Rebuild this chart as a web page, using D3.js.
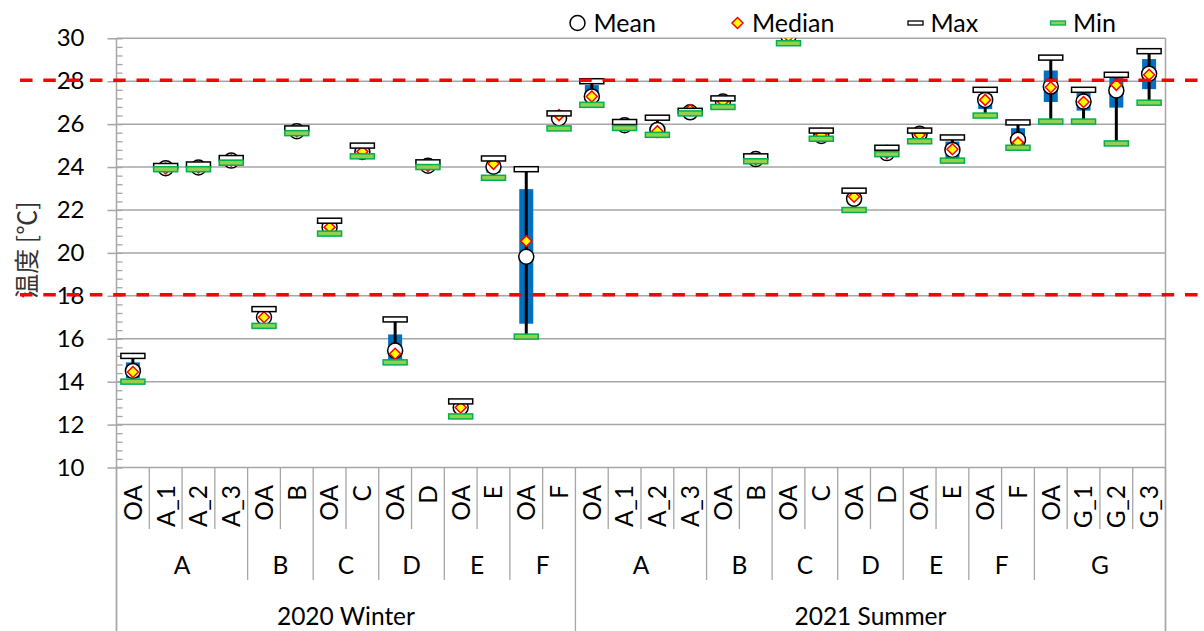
<!DOCTYPE html>
<html>
<head>
<meta charset="utf-8">
<script src="https://cdn.jsdelivr.net/npm/d3@7"></script>
<style>
  body { margin: 0; background: #fff; }
  svg { display: block; }
</style>
</head>
<body>
<svg id="chart" width="1204" height="631"></svg>
<script>
// Measurement points, grouped by room and season
const categories = ["OA","A_1","A_2","A_3","OA","B","OA","C","OA","D","OA","E","OA","F",
                    "OA","A_1","A_2","A_3","OA","B","OA","C","OA","D","OA","E","OA","F","OA","G_1","G_2","G_3"];
const groups = ["A","A","A","A","B","B","C","C","D","D","E","E","F","F",
                "A","A","A","A","B","B","C","C","D","D","E","E","F","F","G","G","G","G"];
const seasons = ["2020 Winter","2020 Winter","2020 Winter","2020 Winter","2020 Winter","2020 Winter","2020 Winter",
                 "2020 Winter","2020 Winter","2020 Winter","2020 Winter","2020 Winter","2020 Winter","2020 Winter",
                 "2021 Summer","2021 Summer","2021 Summer","2021 Summer","2021 Summer","2021 Summer","2021 Summer",
                 "2021 Summer","2021 Summer","2021 Summer","2021 Summer","2021 Summer","2021 Summer","2021 Summer",
                 "2021 Summer","2021 Summer","2021 Summer","2021 Summer"];

// Temperature statistics [°C]
const maxVals    = [15.2, 24.05, 24.12, 24.42, 17.38, 25.8, 21.5, 25.0, 16.9, 24.22, 13.08, 24.4, 23.9, 26.5,
                    28.0, 26.1, 26.3, 26.62, 27.2, 24.5, 30.4, 25.7, 22.9, 24.9, 25.7, 25.38, 27.6, 26.08, 29.1, 27.6, 28.3, 29.4];
const minVals    = [14.0, 23.9, 23.9, 24.2, 16.6, 25.58, 20.9, 24.5, 14.9, 24.0, 12.38, 23.5, 16.1, 25.8,
                    26.9, 25.82, 25.5, 26.5, 26.8, 24.27, 29.77, 25.32, 22.0, 24.6, 25.2, 24.3, 26.4, 24.9, 26.12, 26.12, 25.1, 27.0];
const meanVals   = [14.5, 23.95, 23.98, 24.3, 17.0, 25.67, 21.2, 24.7, 15.45, 24.06, 12.8, 24.02, 19.82, 26.28,
                    27.29, 25.95, 25.73, 26.55, 27.05, 24.37, 30.1, 25.45, 22.52, 24.65, 25.55, 24.8, 27.13, 25.27, 27.75, 27.05, 27.57, 28.35];
const medianVals = [14.45, 23.93, 23.98, 24.3, 17.0, 25.67, 21.2, 24.72, 15.3, 24.05, 12.8, 24.15, 20.55, 26.42,
                    27.29, 25.95, 25.67, 26.66, 27.05, 24.37, 30.1, 25.5, 22.62, 24.66, 25.5, 24.83, 27.13, 25.14, 27.72, 27.03, 27.83, 28.3];
const q1Vals     = [14.15, 23.92, 23.93, 24.25, 16.85, 25.62, 21.05, 24.6, 15.0, 24.02, 12.6, 23.73, 16.7, 26.1,
                    27.1, 25.88, 25.6, 26.52, 26.9, 24.32, 29.95, 25.38, 22.3, 24.62, 25.35, 24.41, 26.7, 24.96, 27.03, 26.63, 26.77, 27.63];
const q3Vals     = [14.9, 24.0, 24.05, 24.35, 17.15, 25.72, 21.35, 24.85, 16.2, 24.12, 12.95, 24.2, 22.97, 26.4,
                    27.82, 26.02, 25.92, 26.6, 27.15, 24.45, 30.25, 25.6, 22.7, 24.75, 25.62, 25.19, 27.4, 25.81, 28.5, 27.45, 28.19, 29.03];

const yTicks = [10, 12, 14, 16, 18, 20, 22, 24, 26, 28, 30];
const thresholds = [28, 18];
const legendItems = ["Mean", "Median", "Max", "Min"];

const svg = d3.select("#chart");
const FONT = "Lato, 'Noto Sans', sans-serif";
const GRID = "#a6a6a6";

const plot = { left: 116.5, right: 1165.5, top: 38.3, bottom: 467.5 };
const idx = d3.range(categories.length);

const x = d3.scaleBand().domain(idx).range([plot.left, plot.right]).padding(0);
const y = d3.scaleLinear().domain([10, 30]).range([plot.bottom, plot.top]);
const cx = i => x(i) + x.bandwidth() / 2;

// Horizontal gridlines
svg.append("g").selectAll("line").data(yTicks).join("line")
  .attr("x1", plot.left).attr("x2", plot.right)
  .attr("y1", d => y(d)).attr("y2", d => y(d))
  .attr("stroke", GRID).attr("stroke-width", 1.5);

// Right border of the plot area
svg.append("line")
  .attr("x1", plot.right).attr("x2", plot.right)
  .attr("y1", plot.top).attr("y2", 631)
  .attr("stroke", GRID).attr("stroke-width", 1.5);

// Y axis with major ticks outside and minor ticks inside
const yAxis = svg.append("g").attr("transform", `translate(${plot.left},0)`)
  .call(d3.axisLeft(y).tickValues(yTicks).tickSize(9).tickPadding(23).tickFormat(d3.format("d")));
yAxis.select(".domain").remove();
yAxis.selectAll(".tick line").attr("stroke", GRID).attr("stroke-width", 1.5);
yAxis.selectAll(".tick text").attr("font-family", FONT).attr("font-size", 24).attr("fill", "#000");

const minorTicks = d3.range(10, 30.001, 0.4).map(v => +v.toFixed(1));
const yMinor = svg.append("g").attr("transform", `translate(${plot.left},0)`)
  .call(d3.axisRight(y).tickValues(minorTicks).tickSize(6).tickFormat(""));
yMinor.select(".domain").remove();
yMinor.selectAll(".tick line").attr("stroke", GRID).attr("stroke-width", 1.3);

svg.append("line")
  .attr("x1", plot.left).attr("x2", plot.left)
  .attr("y1", plot.top).attr("y2", 631)
  .attr("stroke", GRID).attr("stroke-width", 1.5);

// Y axis title
svg.append("text")
  .attr("transform", "translate(25,250) rotate(-90)")
  .attr("text-anchor", "middle").attr("dominant-baseline", "central")
  .attr("font-family", "'Noto Sans CJK JP', 'Noto Sans CJK SC', sans-serif")
  .attr("font-size", 25).attr("fill", "#333")
  .text("温度 [℃]");

// Multi-level category axis: separators
const boundaryLevel = i => {
  if (i === 0 || i === categories.length || seasons[i] !== seasons[i - 1]) return 631;
  if (groups[i] !== groups[i - 1]) return 580;
  return 529;
};
const bx = i => (i === categories.length ? plot.right : x(i));
svg.append("g").selectAll("line").data(d3.range(categories.length + 1)).join("line")
  .attr("x1", bx).attr("x2", bx)
  .attr("y1", plot.bottom).attr("y2", boundaryLevel)
  .attr("stroke", GRID).attr("stroke-width", 1.3);

// Level 1 labels (rotated)
svg.append("g").selectAll("text").data(idx).join("text")
  .attr("transform", i => `translate(${cx(i)},485) rotate(-90)`)
  .attr("text-anchor", "end").attr("dy", "0.36em")
  .attr("font-family", FONT).attr("font-size", 24.5).attr("fill", "#000")
  .text(i => categories[i]);

// Level 2 / level 3 labels, centred over runs of equal keys
function runs(keyFn) {
  const out = [];
  idx.forEach(i => {
    const k = keyFn(i);
    if (out.length && out[out.length - 1].key === k) out[out.length - 1].end = i;
    else out.push({ key: k, start: i, end: i });
  });
  return out;
}
const groupRuns = runs(i => seasons[i] + "|" + groups[i]);
svg.append("g").selectAll("text").data(groupRuns).join("text")
  .attr("x", r => (x(r.start) + x(r.end) + x.bandwidth()) / 2)
  .attr("y", 565).attr("dy", "0.36em").attr("text-anchor", "middle")
  .attr("font-family", FONT).attr("font-size", 24.5).attr("fill", "#000")
  .text(r => groups[r.start]);

const seasonRuns = runs(i => seasons[i]);
svg.append("g").selectAll("text").data(seasonRuns).join("text")
  .attr("x", r => (x(r.start) + x(r.end) + x.bandwidth()) / 2)
  .attr("y", 616).attr("dy", "0.36em").attr("text-anchor", "middle")
  .attr("font-family", FONT).attr("font-size", 24.5).attr("fill", "#000")
  .text(r => seasons[r.start]);

// Marks, clipped to the plot area
svg.append("clipPath").attr("id", "plotClip").append("rect")
  .attr("x", plot.left).attr("y", plot.top)
  .attr("width", plot.right - plot.left).attr("height", plot.bottom - plot.top);
const marks = svg.append("g").attr("clip-path", "url(#plotClip)");

const BOX_W = 14, CAP_W = 24, CAP_H = 5;

marks.append("g").selectAll("rect").data(idx).join("rect")
  .attr("x", i => cx(i) - BOX_W / 2).attr("width", BOX_W)
  .attr("y", i => y(q3Vals[i])).attr("height", i => y(q1Vals[i]) - y(q3Vals[i]))
  .attr("fill", "#0070c0");

marks.append("g").selectAll("line").data(idx).join("line")
  .attr("x1", cx).attr("x2", cx)
  .attr("y1", i => y(maxVals[i])).attr("y2", i => y(minVals[i]))
  .attr("stroke", "#000").attr("stroke-width", 3);

marks.append("g").selectAll("circle").data(idx).join("circle")
  .attr("cx", cx).attr("cy", i => y(meanVals[i])).attr("r", 7.5)
  .attr("fill", "#fff").attr("stroke", "#000").attr("stroke-width", 1.5);

const diamond = (px, py, s) => `M${px},${py - s}L${px + s},${py}L${px},${py + s}L${px - s},${py}Z`;
marks.append("g").selectAll("path").data(idx).join("path")
  .attr("d", i => diamond(cx(i), y(medianVals[i]), 5.5))
  .attr("fill", "#ffff00").attr("stroke", "#ff0000").attr("stroke-width", 1.5);

marks.append("g").selectAll("rect").data(idx).join("rect")
  .attr("x", i => cx(i) - CAP_W / 2).attr("width", CAP_W)
  .attr("y", i => y(maxVals[i]) - CAP_H / 2).attr("height", CAP_H)
  .attr("fill", "#fff").attr("stroke", "#000").attr("stroke-width", 1.5);

marks.append("g").selectAll("rect").data(idx).join("rect")
  .attr("x", i => cx(i) - CAP_W / 2).attr("width", CAP_W)
  .attr("y", i => y(minVals[i]) - CAP_H / 2).attr("height", CAP_H)
  .attr("fill", "#92d050").attr("stroke", "#00b050").attr("stroke-width", 1.5);

// Comfort range limits
svg.append("g").selectAll("line").data(thresholds).join("line")
  .attr("x1", 20).attr("x2", 1204)
  .attr("y1", d => y(d) - 1).attr("y2", d => y(d) - 1)
  .attr("stroke", "#ff0000").attr("stroke-width", 3.5)
  .attr("stroke-dasharray", "12.5,10.8");

// Legend
const legend = svg.append("g");
const legendX = [577.5, 737.5, 915.5, 1058];
const ly = 23;
legend.append("circle").attr("cx", legendX[0]).attr("cy", ly).attr("r", 7.5)
  .attr("fill", "#fff").attr("stroke", "#000").attr("stroke-width", 1.5);
legend.append("path").attr("d", diamond(legendX[1], ly, 5.5))
  .attr("fill", "#ffff00").attr("stroke", "#ff0000").attr("stroke-width", 1.5);
legend.append("rect").attr("x", legendX[2] - 7.5).attr("y", ly - 2).attr("width", 15).attr("height", 4)
  .attr("fill", "#fff").attr("stroke", "#000").attr("stroke-width", 1.3);
legend.append("rect").attr("x", legendX[3] - 7.5).attr("y", ly - 2).attr("width", 15).attr("height", 4)
  .attr("fill", "#92d050").attr("stroke", "#00b050").attr("stroke-width", 1.3);
legend.selectAll("text").data(legendItems).join("text")
  .attr("x", (d, k) => legendX[k] + [16, 14.5, 15, 15][k])
  .attr("y", ly).attr("dy", "0.36em")
  .attr("font-family", FONT).attr("font-size", 25).attr("fill", "#000")
  .text(d => d);
</script>
</body>
</html>
